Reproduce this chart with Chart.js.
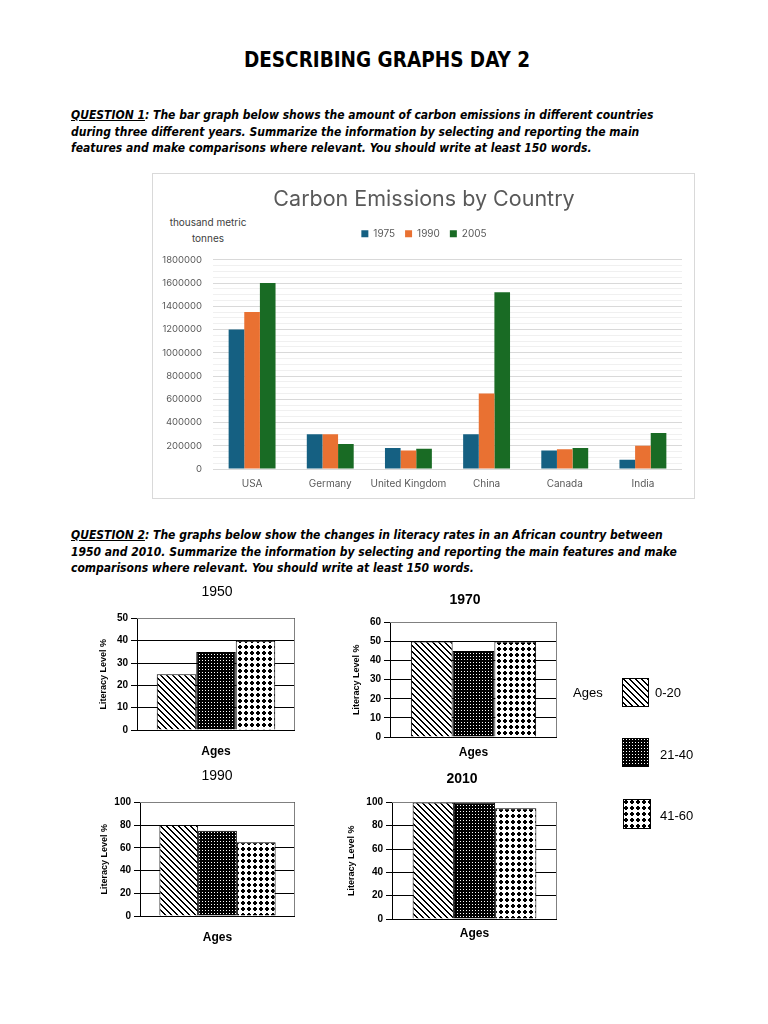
<!DOCTYPE html>
<html>
<head>
<meta charset="utf-8">
<script src="https://cdn.jsdelivr.net/npm/chart.js@4.4.1/dist/chart.umd.min.js"></script>
<style>
  body { margin: 0; background: #fff; width: 768px; height: 1024px; position: relative; overflow: hidden; }
  .abs { position: absolute; }
  #pageTitle { left: 3px; width: 768px; top: 48px; text-align: center; font: bold 20.5px "DejaVu Sans Condensed", "DejaVu Sans"; font-stretch: condensed; line-height: 24px; }
  .q { left: 71px; font: italic bold 12px "DejaVu Sans Condensed", "DejaVu Sans"; font-stretch: condensed; line-height: 16.5px; white-space: nowrap; color: #000; }
  #box1 { left: 152px; top: 173px; width: 541px; height: 324px; border: 1px solid #d9d9d9; }
  #unit { left: 158px; width: 100px; top: 214px; text-align: center; font: 10px Inter; line-height: 16px; color: #404040; }
  .leg { font: 13px "Liberation Sans"; line-height: 16px; color: #000; }
</style>
</head>
<body>
<div id="pageTitle" class="abs">DESCRIBING GRAPHS DAY 2</div>
<div class="abs q" style="top:107px"><u>QUESTION 1</u>: The bar graph below shows the amount of carbon emissions in different countries<br>during three different years. Summarize the information by selecting and reporting the main<br>features and make comparisons where relevant. You should write at least 150 words.</div>
<div id="box1" class="abs"></div>
<div id="unit" class="abs">thousand metric<br>tonnes</div>
<canvas id="emissions" class="abs"></canvas>
<div class="abs q" style="top:527px"><u>QUESTION 2</u>: The graphs below show the changes in literacy rates in an African country between<br>1950 and 2010. Summarize the information by selecting and reporting the main features and make<br>comparisons where relevant. You should write at least 150 words.</div>
<canvas id="c1950" class="abs"></canvas>
<canvas id="c1970" class="abs"></canvas>
<canvas id="c1990" class="abs"></canvas>
<canvas id="c2010" class="abs"></canvas>
<div class="abs leg" style="left:573px;top:685px">Ages</div>
<canvas id="sw0" class="abs" width="27" height="29" style="left:622px;top:678px"></canvas>
<div class="abs leg" style="left:655px;top:685px">0-20</div>
<canvas id="sw1" class="abs" width="27" height="29" style="left:622px;top:738px"></canvas>
<div class="abs leg" style="left:660px;top:747px">21-40</div>
<canvas id="sw2" class="abs" width="28" height="30" style="left:623px;top:799px"></canvas>
<div class="abs leg" style="left:660px;top:808px">41-60</div>
<script>
// carbon emissions (thousand metric tonnes)
var countries = ['USA', 'Germany', 'United Kingdom', 'China', 'Canada', 'India'];
var years = ['1975', '1990', '2005'];
var emissions1975 = [1200000, 300000, 180000, 300000, 160000, 80000];
var emissions1990 = [1350000, 300000, 160000, 650000, 170000, 200000];
var emissions2005 = [1600000, 215000, 175000, 1520000, 180000, 310000];
var emissionMax = 1800000;
var emissionStep = 200000;
var emissionMinorStep = 50000;

// literacy level %
var ageGroups = ['0-20', '21-40', '41-60'];
var literacyYears = ['1950', '1970', '1990', '2010'];
var literacy1950 = [25, 35, 40];
var literacy1970 = [50, 45, 50];
var literacy1990 = [80, 75, 65];
var literacy2010 = [100, 100, 95];
var literacyMax = [50, 60, 100, 100];
var literacyStep = [10, 10, 20, 20];

Chart.defaults.font.family = 'Inter';

// ---- fill patterns for the literacy bars ----
function makeTile(w, h, isBlack) {
    var t = document.createElement('canvas');
    t.width = w; t.height = h;
    var c = t.getContext('2d');
    var img = c.createImageData(w, h);
    for (var y = 0; y < h; y++) {
        for (var x = 0; x < w; x++) {
            var v = isBlack(x, y) ? 0 : 255;
            var i = (y * w + x) * 4;
            img.data[i] = v; img.data[i + 1] = v; img.data[i + 2] = v; img.data[i + 3] = 255;
        }
    }
    c.putImageData(img, 0, 0);
    return c.createPattern(t, 'repeat');
}

var patterns = [
    makeTile(6, 6, function (x, y) { var d = ((x - y) % 6 + 6) % 6; return d < 2; }),
    makeTile(3, 3, function (x, y) { return !(x === 1 && y === 1); }),
    makeTile(6, 6, function (x, y) { var dx = x - 2.5, dy = y - 2.5; return dx * dx + dy * dy < 4; })
];

[0, 1, 2].forEach(function (i) {
    var cv = document.getElementById('sw' + i);
    var c = cv.getContext('2d');
    c.fillStyle = patterns[i];
    c.fillRect(0, 0, cv.width, cv.height);
    c.strokeStyle = '#000';
    c.strokeRect(0.5, 0.5, cv.width - 1, cv.height - 1);
});

// ---- chart 1 ----
var legendGap = {
    id: 'legendGap',
    beforeInit: function (chart) {
        var fit = chart.legend.fit;
        chart.legend.fit = function () {
            fit.call(this);
            this.height += 11;
        };
    }
};

var grey = '#595959';
var c1 = document.getElementById('emissions');
c1.width = 532; c1.height = 324;
c1.style.left = '158px'; c1.style.top = '174px';

new Chart(c1, {
    type: 'bar',
    data: {
        labels: countries,
        datasets: [
            { label: years[0], data: emissions1975, backgroundColor: '#156082' },
            { label: years[1], data: emissions1990, backgroundColor: '#e97132' },
            { label: years[2], data: emissions2005, backgroundColor: '#196b24' }
        ]
    },
    options: {
        responsive: false,
        animation: false,
        layout: { padding: 0 },
        datasets: { bar: { categoryPercentage: 0.6, barPercentage: 1 } },
        plugins: {
            title: {
                display: true,
                text: 'Carbon Emissions by Country',
                color: grey,
                font: { size: 21.5, weight: 'normal' },
                padding: { top: 13, bottom: 6 }
            },
            legend: {
                position: 'top',
                labels: { boxWidth: 7, boxHeight: 7, color: grey, font: { size: 10 }, padding: 10 }
            },
            tooltip: { enabled: false }
        },
        scales: {
            x: {
                grid: { display: false, drawTicks: false },
                border: { display: false },
                ticks: { color: grey, font: { size: 10 }, padding: 9, autoSkip: false, maxRotation: 0 },
                afterFit: function (s) { s.height = 29; }
            },
            y: {
                min: 0,
                max: emissionMax,
                ticks: {
                    stepSize: emissionMinorStep,
                    autoSkip: false,
                    color: grey,
                    font: { size: 9.5 },
                    padding: 11,
                    callback: function (v) { return v % emissionStep === 0 ? String(v) : ''; }
                },
                grid: {
                    drawTicks: false,
                    color: function (ctx) { return ctx.tick.value % emissionStep === 0 ? '#d9d9d9' : '#f0f0f0'; }
                },
                border: { display: false },
                afterFit: function (s) { s.width = 55; }
            },
            yRight: {
                position: 'right',
                grid: { display: false, drawTicks: false },
                border: { display: false },
                ticks: { display: false },
                afterFit: function (s) { s.width = 8; }
            }
        }
    },
    plugins: [legendGap]
});

// ---- literacy charts ----
var frame = {
    id: 'frame',
    beforeDatasetsDraw: function (chart) {
        var a = chart.chartArea, ctx = chart.ctx;
        ctx.save();
        ctx.strokeStyle = '#808080';
        ctx.lineWidth = 1;
        ctx.beginPath();
        ctx.moveTo(a.left, Math.round(a.top) + 0.5);
        ctx.lineTo(Math.round(a.right) - 0.5, Math.round(a.top) + 0.5);
        ctx.lineTo(Math.round(a.right) - 0.5, a.bottom);
        ctx.stroke();
        ctx.restore();
    }
};

function literacyChart(id, year, values, max, step, g) {
    var yW = 50, xH = 30;
    var lh = 14 * 1.2;
    var left = g.plotL - yW;
    var top = g.titleY - lh / 2;
    var y2W = yW - 2 * ((g.plotL + g.plotR) / 2 - g.titleX);
    var cv = document.getElementById(id);
    cv.width = Math.round(g.plotR + y2W - left);
    cv.height = Math.round(g.plotB + xH - top);
    cv.style.left = left + 'px';
    cv.style.top = top + 'px';

    new Chart(cv, {
        type: 'bar',
        data: {
            labels: ['Ages'],
            datasets: ageGroups.map(function (a, i) {
                return {
                    label: a,
                    data: [values[i]],
                    backgroundColor: patterns[i],
                    borderColor: '#000',
                    borderWidth: 1,
                    categoryPercentage: 0.75,
                    barPercentage: 1
                };
            })
        },
        options: {
            responsive: false,
            animation: false,
            layout: { padding: 0 },
            plugins: {
                legend: { display: false },
                tooltip: { enabled: false },
                title: {
                    display: true,
                    text: year,
                    color: '#000',
                    font: { family: 'Liberation Sans', size: 14, weight: g.bold ? 'bold' : 'normal' },
                    padding: { top: 0, bottom: g.plotT - top - lh }
                }
            },
            scales: {
                x: {
                    grid: { display: false, drawTicks: false },
                    border: { display: false },
                    ticks: { display: false },
                    title: {
                        display: true,
                        text: 'Ages',
                        color: '#000',
                        font: { family: 'Liberation Sans', size: 12, weight: 'bold' },
                        padding: { top: 0, bottom: g.plotB + xH - g.agesY - 7.2 }
                    },
                    afterFit: function (s) { s.height = xH; }
                },
                y: {
                    min: 0,
                    max: max,
                    ticks: { stepSize: step, color: '#000', font: { family: 'Liberation Sans', size: 10, weight: 'bold' }, padding: 3 },
                    grid: { color: '#000', tickLength: 6 },
                    border: { color: '#000' },
                    title: {
                        display: true,
                        text: 'Literacy Level %',
                        color: '#000',
                        font: { family: 'Liberation Sans', size: 9, weight: 'bold' },
                        padding: { top: g.yTitleX - left - 5.4, bottom: 0 }
                    },
                    afterFit: function (s) { s.width = yW; }
                },
                y2: {
                    position: 'right',
                    grid: { display: false, drawTicks: false },
                    border: { display: false },
                    ticks: { display: false },
                    afterFit: function (s) { s.width = y2W; }
                }
            }
        },
        plugins: [frame]
    });
}

literacyChart('c1950', literacyYears[0], literacy1950, literacyMax[0], literacyStep[0],
    { plotL: 137, plotR: 295, plotT: 618, plotB: 730, titleX: 217, titleY: 592, yTitleX: 104, agesY: 752, bold: false });
literacyChart('c1970', literacyYears[1], literacy1970, literacyMax[1], literacyStep[1],
    { plotL: 390, plotR: 557, plotT: 622, plotB: 737, titleX: 465, titleY: 600, yTitleX: 357, agesY: 753, bold: true });
literacyChart('c1990', literacyYears[2], literacy1990, literacyMax[2], literacyStep[2],
    { plotL: 140, plotR: 295, plotT: 802, plotB: 916, titleX: 217, titleY: 776, yTitleX: 105, agesY: 938, bold: false });
literacyChart('c2010', literacyYears[3], literacy2010, literacyMax[3], literacyStep[3],
    { plotL: 392, plotR: 557, plotT: 802, plotB: 919, titleX: 462, titleY: 779, yTitleX: 352, agesY: 934, bold: true });
</script>
</body>
</html>
